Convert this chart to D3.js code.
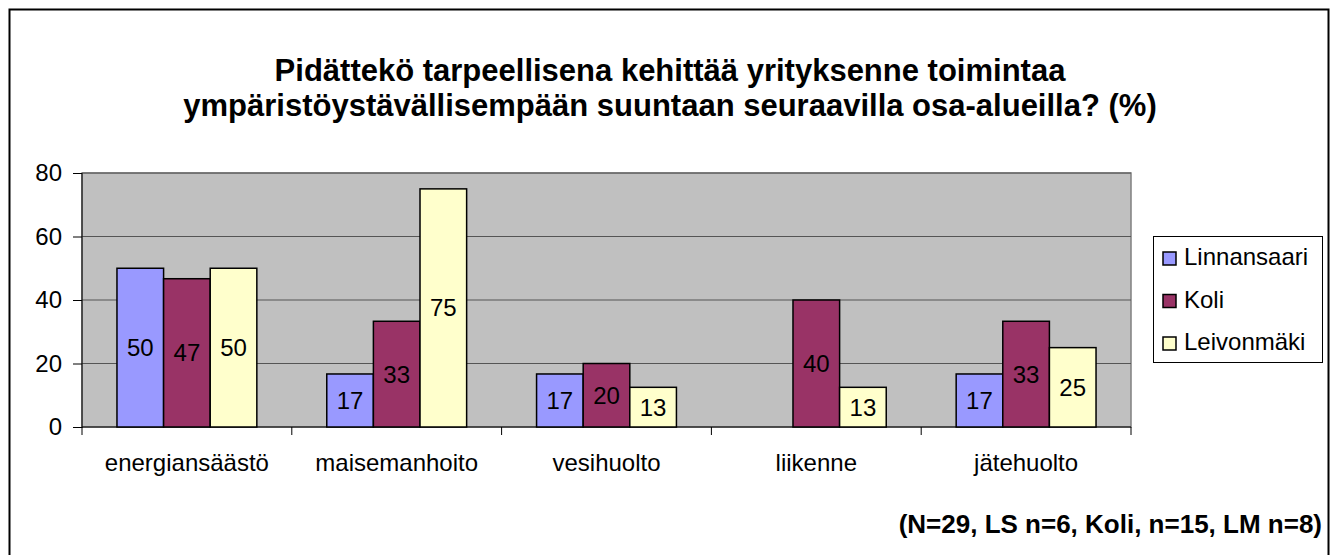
<!DOCTYPE html>
<html>
<head>
<meta charset="utf-8">
<script src="https://cdn.jsdelivr.net/npm/d3@7"></script>
<style>
  body { margin: 0; background: #fff; }
  svg { display: block; font-family: "Liberation Sans", Arial, sans-serif; }
</style>
</head>
<body>
<div id="chart"></div>
<script>
// Data
const categories = ['energiansäästö', 'maisemanhoito', 'vesihuolto', 'liikenne', 'jätehuolto'];
const seriesNames = ['Linnansaari', 'Koli', 'Leivonmäki'];
const linnansaari = [50, 16.7, 16.7, 0, 16.7];
const koli = [46.7, 33.3, 20, 40, 33.3];
const leivonmaki = [50, 75, 12.5, 12.5, 25];
const yTicks = [0, 20, 40, 60, 80];
const titleLines = ['Pidättekö tarpeellisena kehittää yrityksenne toimintaa',
                    'ympäristöystävällisempään suuntaan seuraavilla osa-alueilla? (%)'];
const footnote = '(N=29, LS n=6, Koli, n=15, LM n=8)';

const colors = ['#9999ff', '#993366', '#ffffcc'];
const series = [linnansaari, koli, leivonmaki];

const width = 1331, height = 555;
const plot = { left: 82, right: 1131, top: 173, bottom: 427 };
const fontSize = '24px';

const svg = d3.select('#chart').append('svg')
    .attr('width', width)
    .attr('height', height);

// Outer frame
svg.append('rect')
    .attr('x', 9.5).attr('y', 9.5)
    .attr('width', 1319).attr('height', 560)
    .attr('fill', '#fff')
    .attr('stroke', '#000')
    .attr('stroke-width', 2);

// Title
svg.append('text')
    .attr('text-anchor', 'middle')
    .attr('font-size', '31px')
    .attr('font-weight', 'bold')
    .selectAll('tspan')
    .data(titleLines)
    .enter().append('tspan')
    .attr('x', 670)
    .attr('y', (d, i) => 81 + i * 35)
    .text(d => d);

// Scales
const x = d3.scaleBand()
    .domain(categories)
    .range([plot.left, plot.right])
    .paddingInner(1 / 3)
    .paddingOuter(1 / 6);

const xs = d3.scaleBand()
    .domain(d3.range(seriesNames.length))
    .range([0, x.bandwidth()]);

const y = d3.scaleLinear()
    .domain([0, 80])
    .range([plot.bottom, plot.top]);

// Plot area
svg.append('rect')
    .attr('x', plot.left).attr('y', plot.top)
    .attr('width', plot.right - plot.left)
    .attr('height', plot.bottom - plot.top)
    .attr('fill', '#c0c0c0')
    .attr('stroke', '#808080')
    .attr('stroke-width', 1.5);

// Gridlines
svg.append('g')
    .selectAll('line')
    .data(yTicks.filter(d => d > 0))
    .enter().append('line')
    .attr('x1', plot.left).attr('x2', plot.right)
    .attr('y1', d => y(d)).attr('y2', d => y(d))
    .attr('stroke', '#555')
    .attr('stroke-width', 1);

// Y axis
const yAxis = svg.append('g')
    .attr('transform', `translate(${plot.left},0)`)
    .call(d3.axisLeft(y).tickValues(yTicks).tickSize(9).tickPadding(11));
yAxis.selectAll('text').attr('font-size', fontSize).attr('fill', '#000').attr('font-family', null);
yAxis.selectAll('line').attr('stroke', '#000');
yAxis.select('.domain').attr('stroke', '#000').attr('d', `M0,${plot.top}V${plot.bottom + 1}`);

// X axis
const step = x.step();
const boundaries = d3.range(categories.length + 1).map(i => plot.left + i * step);
svg.append('line')
    .attr('x1', plot.left).attr('x2', plot.right)
    .attr('y1', plot.bottom).attr('y2', plot.bottom)
    .attr('stroke', '#000').attr('stroke-width', 1.2);
svg.append('g')
    .selectAll('line')
    .data(boundaries)
    .enter().append('line')
    .attr('x1', d => d).attr('x2', d => d)
    .attr('y1', plot.bottom).attr('y2', plot.bottom + 8)
    .attr('stroke', '#000');
svg.append('g')
    .selectAll('text')
    .data(categories)
    .enter().append('text')
    .attr('x', d => x(d) + x.bandwidth() / 2)
    .attr('y', 471)
    .attr('text-anchor', 'middle')
    .attr('font-size', fontSize)
    .text(d => d);

// Bars
const groups = svg.append('g')
    .selectAll('g')
    .data(categories)
    .enter().append('g')
    .attr('transform', d => `translate(${x(d)},0)`);

groups.each(function(cat, ci) {
    const g = d3.select(this);
    series.forEach((vals, si) => {
        const v = vals[ci];
        if (v <= 0) return;
        g.append('rect')
            .attr('x', xs(si))
            .attr('y', y(v))
            .attr('width', xs.bandwidth())
            .attr('height', y(0) - y(v))
            .attr('fill', colors[si])
            .attr('stroke', '#000')
            .attr('stroke-width', 1.5);
        g.append('text')
            .attr('x', xs(si) + xs.bandwidth() / 2)
            .attr('y', (y(v) + y(0)) / 2)
            .attr('dy', '0.35em')
            .attr('text-anchor', 'middle')
            .attr('font-size', fontSize)
            .text(Math.round(v));
    });
});

// Legend
const legend = svg.append('g');
legend.append('rect')
    .attr('x', 1153.5).attr('y', 236.5)
    .attr('width', 169).attr('height', 126)
    .attr('fill', '#fff')
    .attr('stroke', '#000')
    .attr('stroke-width', 1);
const items = legend.selectAll('g.item')
    .data(seriesNames)
    .enter().append('g')
    .attr('class', 'item')
    .attr('transform', (d, i) => `translate(1163,${257 + i * 42.5})`);
items.append('rect')
    .attr('x', 0).attr('y', -5)
    .attr('width', 13).attr('height', 13)
    .attr('fill', (d, i) => colors[i])
    .attr('stroke', '#000')
    .attr('stroke-width', 1.5);
items.append('text')
    .attr('x', 21)
    .attr('y', 0)
    .attr('dy', '0.35em')
    .attr('font-size', fontSize)
    .text(d => d);

// Footnote
svg.append('text')
    .attr('x', 1322)
    .attr('y', 533)
    .attr('text-anchor', 'end')
    .attr('font-size', '26px')
    .attr('font-weight', 'bold')
    .text(footnote);
</script>
</body>
</html>
